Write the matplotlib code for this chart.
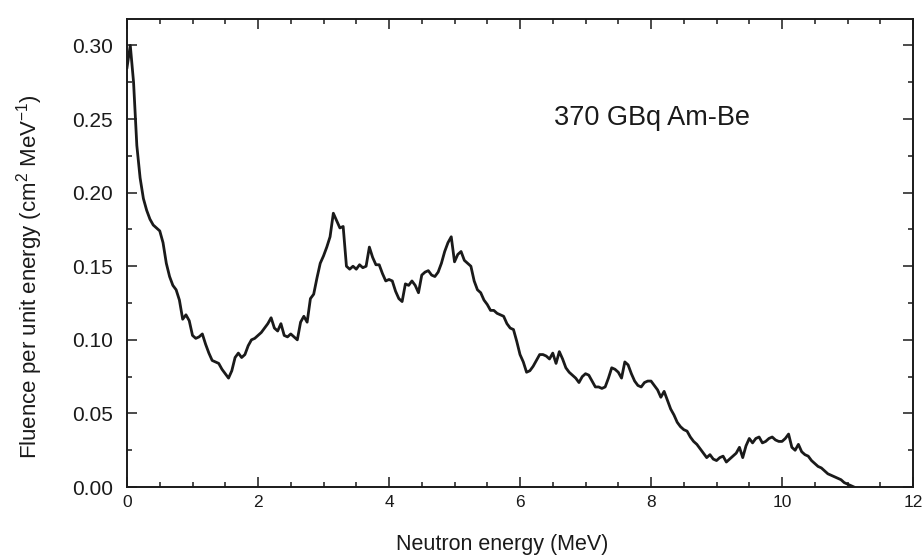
import numpy as np
import matplotlib
matplotlib.use("Agg")
import matplotlib.pyplot as plt

plt.rcParams['font.family'] = ['Liberation Sans', 'DejaVu Sans']
plt.rcParams['mathtext.default'] = 'regular'

# Am-Be neutron spectrum, 0.05 MeV bins starting at 0 MeV
bin_width = 0.05
fluence = [
    0.285, 0.300, 0.275, 0.232, 0.210, 0.196, 0.188, 0.182, 0.178, 0.176,
    0.174, 0.166, 0.152, 0.143, 0.137, 0.134, 0.127, 0.114, 0.117, 0.113,
    0.103, 0.101, 0.102, 0.104, 0.097, 0.091, 0.086, 0.085, 0.084, 0.080,
    0.077, 0.074, 0.079, 0.088, 0.091, 0.088, 0.090, 0.096, 0.100, 0.101,
    0.103, 0.105, 0.108, 0.111, 0.115, 0.108, 0.106, 0.111, 0.103, 0.102,
    0.104, 0.102, 0.100, 0.112, 0.116, 0.112, 0.128, 0.131, 0.142, 0.152,
    0.157, 0.163, 0.170, 0.186, 0.181, 0.176, 0.177, 0.150, 0.148, 0.150,
    0.148, 0.151, 0.149, 0.150, 0.163, 0.156, 0.151, 0.151, 0.145, 0.140,
    0.141, 0.140, 0.133, 0.128, 0.126, 0.138, 0.137, 0.140, 0.137, 0.132,
    0.144, 0.146, 0.147, 0.144, 0.143, 0.146, 0.152, 0.160, 0.166, 0.170,
    0.153, 0.158, 0.160, 0.154, 0.152, 0.150, 0.140, 0.134, 0.132, 0.127,
    0.124, 0.120, 0.120, 0.118, 0.117, 0.116, 0.111, 0.108, 0.107, 0.099,
    0.090, 0.085, 0.078, 0.079, 0.082, 0.086, 0.090, 0.090, 0.089, 0.087,
    0.091, 0.084, 0.092, 0.087, 0.081, 0.078, 0.076, 0.074, 0.071, 0.075,
    0.077, 0.076, 0.072, 0.068, 0.068, 0.067, 0.068, 0.074, 0.081, 0.080,
    0.078, 0.074, 0.085, 0.083, 0.077, 0.072, 0.069, 0.068, 0.071, 0.072,
    0.072, 0.069, 0.066, 0.061, 0.065, 0.059, 0.053, 0.049, 0.044, 0.041,
    0.039, 0.038, 0.034, 0.031, 0.029, 0.026, 0.023, 0.020, 0.022, 0.019,
    0.018, 0.020, 0.021, 0.017, 0.019, 0.021, 0.023, 0.027, 0.020, 0.028,
    0.033, 0.030, 0.033, 0.034, 0.030, 0.031, 0.033, 0.034, 0.032, 0.031,
    0.031, 0.033, 0.036, 0.027, 0.025, 0.029, 0.024, 0.022, 0.021, 0.018,
    0.016, 0.014, 0.013, 0.011, 0.009, 0.008, 0.007, 0.006, 0.005, 0.003,
    0.002, 0.001, 0.000,
]
energy = np.arange(len(fluence)) * bin_width

x_ticks = [0, 2, 4, 6, 8, 10, 12]
y_ticks = [0.00, 0.05, 0.10, 0.15, 0.20, 0.25, 0.30]

ink = '#1a1a1a'

fig = plt.figure(figsize=(9.23, 5.56), dpi=100)
ax = fig.add_axes([0.1376, 0.124, 0.8516, 0.842])

ax.plot(energy, fluence, color=ink, lw=2.0)

ax.set_xlim(0, 12)
ax.set_ylim(0, 0.318)
ax.set_xticks(x_ticks)
ax.set_yticks(y_ticks)
ax.set_xticks(np.arange(0, 12.01, 0.5), minor=True)
ax.set_yticks(np.arange(0, 0.3001, 0.025), minor=True)
ax.set_yticklabels(['%.2f' % v for v in y_ticks])

ax.tick_params(which='both', direction='in', top=True, right=True,
               color=ink, width=1.1)
ax.tick_params(which='major', length=7)
ax.tick_params(which='minor', length=3.5)
ax.tick_params(axis='x', labelsize=12.5, pad=6, labelcolor=ink)
ax.tick_params(axis='y', labelsize=15, pad=10, labelcolor=ink)

for s in ax.spines.values():
    s.set_linewidth(1.4)
    s.set_color(ink)

ax.set_xlabel('Neutron energy (MeV)', fontsize=15.5, color=ink)
ax.set_ylabel('Fluence per unit energy (cm$^2$ MeV$^{-1}$)', fontsize=16,
              color=ink)
ax.xaxis.set_label_coords((502 - 127) / 786, -0.1)
ax.yaxis.set_label_coords(-0.104, 0.45)

ax.text(6.52, 0.251, '370 GBq Am-Be', fontsize=19.5, color=ink,
        va='center', ha='left')

fig.savefig('out.png', dpi=100)
